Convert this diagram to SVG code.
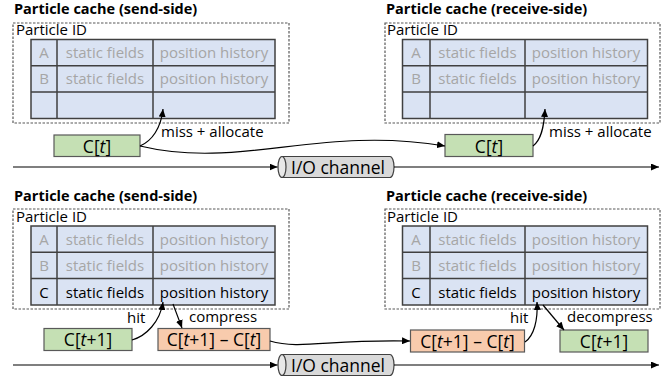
<svg xmlns="http://www.w3.org/2000/svg" width="668" height="381" viewBox="0 0 668 381">
<style>
  text { font-family: "Open Sans", "Noto Sans", "Liberation Sans", sans-serif; }
  .title { font-size: 14.5px; font-weight: bold; fill: #000; }
  .lbl { font-size: 15px; fill: #000; }
  .dash { fill: none; stroke: #595959; stroke-width: 1.2; stroke-dasharray: 2.5 1.5; }
  .tbl { fill: #dae3f3; stroke: #404040; stroke-width: 1.5; }
  .grid { stroke: #404040; stroke-width: 1.5; fill: none; }
  .cell { font-size: 15px; text-anchor: middle; }
  .dim { fill: #a6a6a6; }
  .on { fill: #000; }
  .green { fill: #c5e0b4; stroke: #595959; stroke-width: 1.2; }
  .orange { fill: #f8cbad; stroke: #595959; stroke-width: 1.2; }
  .boxt { font-size: 17.5px; text-anchor: middle; fill: #000; }
  .conn { fill: none; stroke: #000; stroke-width: 1.2; marker-end: url(#ah); }
  .cyl { fill: #d9d9d9; stroke: #404040; stroke-width: 1.2; }
  .cylf { fill: #e8e8e8; stroke: #404040; stroke-width: 1.2; }
  .io { font-size: 17.5px; fill: #000; }
</style>
<defs>
  <marker id="ah" markerUnits="userSpaceOnUse" markerWidth="8" markerHeight="7" refX="8" refY="3.5" orient="auto">
    <path d="M0,0 L8,3.5 L0,7 Z" fill="#000"/>
  </marker>
</defs>

<!-- Upper: send-side cache -->
<g id="cache-send-1">
  <text class="title" x="14" y="14">Particle cache (send-side)</text>
  <rect class="dash" x="13" y="23" width="276" height="100"/>
  <text class="lbl" x="16" y="35">Particle ID</text>
  <rect class="tbl" x="31" y="39.5" width="244" height="79"/>
  <path class="grid" d="M31,65.8 H275 M31,92.1 H275 M57,39.5 V118.5 M153,39.5 V118.5"/>
  <text class="cell dim" x="44" y="57.5">A</text>
  <text class="cell dim" x="105" y="57.5">static fields</text>
  <text class="cell dim" x="214" y="57.5">position history</text>
  <text class="cell dim" x="44" y="84">B</text>
  <text class="cell dim" x="105" y="84">static fields</text>
  <text class="cell dim" x="214" y="84">position history</text>
</g>

<!-- Upper: receive-side cache -->
<g id="cache-recv-1">
  <text class="title" x="386" y="14">Particle cache (receive-side)</text>
  <rect class="dash" x="385" y="23" width="275" height="100"/>
  <text class="lbl" x="387" y="35">Particle ID</text>
  <rect class="tbl" x="402.5" y="39.5" width="245" height="79"/>
  <path class="grid" d="M402.5,65.8 H647.5 M402.5,92.1 H647.5 M430,39.5 V118.5 M525,39.5 V118.5"/>
  <text class="cell dim" x="416" y="57.5">A</text>
  <text class="cell dim" x="477.5" y="57.5">static fields</text>
  <text class="cell dim" x="586" y="57.5">position history</text>
  <text class="cell dim" x="416" y="84">B</text>
  <text class="cell dim" x="477.5" y="84">static fields</text>
  <text class="cell dim" x="586" y="84">position history</text>
</g>

<g id="ct-send">
  <rect class="green" x="54" y="135" width="86" height="21.5"/>
  <text class="boxt" x="97" y="152.5">C[<tspan font-style="italic">t</tspan>]</text>
</g>
<g id="ct-recv">
  <rect class="green" x="445" y="134.5" width="88" height="22"/>
  <text class="boxt" x="489" y="152.5">C[<tspan font-style="italic">t</tspan>]</text>
</g>

<g id="io-1">
  <path class="cyl" d="M282,156.5 H390 A4,10.5 0 0 1 390,177.5 H282 Z"/>
  <ellipse class="cylf" cx="282" cy="167" rx="4" ry="10.5"/>
  <text class="io" x="291" y="174">I/O channel</text>
</g>

<!-- Lower: send-side cache -->
<g id="cache-send-2">
  <text class="title" x="14" y="200.5">Particle cache (send-side)</text>
  <rect class="dash" x="13" y="209" width="276" height="100"/>
  <text class="lbl" x="16" y="221.5">Particle ID</text>
  <rect class="tbl" x="31" y="226" width="244" height="79"/>
  <path class="grid" d="M31,252.3 H275 M31,278.6 H275 M57,226 V305 M153,226 V305"/>
  <text class="cell dim" x="44" y="244.5">A</text>
  <text class="cell dim" x="105" y="244.5">static fields</text>
  <text class="cell dim" x="214" y="244.5">position history</text>
  <text class="cell dim" x="44" y="271">B</text>
  <text class="cell dim" x="105" y="271">static fields</text>
  <text class="cell dim" x="214" y="271">position history</text>
  <text class="cell on" x="44" y="297.8">C</text>
  <text class="cell on" x="105" y="297.8">static fields</text>
  <text class="cell on" x="214" y="297.8">position history</text>
</g>

<!-- Lower: receive-side cache -->
<g id="cache-recv-2">
  <text class="title" x="386" y="200.5">Particle cache (receive-side)</text>
  <rect class="dash" x="385" y="209" width="275" height="100"/>
  <text class="lbl" x="387" y="221.5">Particle ID</text>
  <rect class="tbl" x="402.5" y="226" width="245" height="79"/>
  <path class="grid" d="M402.5,252.3 H647.5 M402.5,278.6 H647.5 M430,226 V305 M525,226 V305"/>
  <text class="cell dim" x="416" y="244.5">A</text>
  <text class="cell dim" x="477.5" y="244.5">static fields</text>
  <text class="cell dim" x="586" y="244.5">position history</text>
  <text class="cell dim" x="416" y="271">B</text>
  <text class="cell dim" x="477.5" y="271">static fields</text>
  <text class="cell dim" x="586" y="271">position history</text>
  <text class="cell on" x="416" y="297.8">C</text>
  <text class="cell on" x="477.5" y="297.8">static fields</text>
  <text class="cell on" x="586" y="297.8">position history</text>
</g>

<g id="ct1-send">
  <rect class="green" x="44" y="328.5" width="88" height="22"/>
  <text class="boxt" x="88" y="346">C[<tspan font-style="italic">t</tspan>+1]</text>
</g>
<g id="diff-send">
  <rect class="orange" x="158" y="328.5" width="112" height="22"/>
  <text class="boxt" x="214" y="346">C[<tspan font-style="italic">t</tspan>+1] – C[<tspan font-style="italic">t</tspan>]</text>
</g>
<g id="diff-recv">
  <rect class="orange" x="410.5" y="330" width="114" height="22"/>
  <text class="boxt" x="467.5" y="347.5">C[<tspan font-style="italic">t</tspan>+1] – C[<tspan font-style="italic">t</tspan>]</text>
</g>
<g id="ct1-recv">
  <rect class="green" x="560" y="330" width="88" height="22"/>
  <text class="boxt" x="604" y="347.5">C[<tspan font-style="italic">t</tspan>+1]</text>
</g>

<g id="io-2">
  <path class="cyl" d="M282,354.5 H390 A4,10.5 0 0 1 390,375.5 H282 Z"/>
  <ellipse class="cylf" cx="282" cy="365" rx="4" ry="10.5"/>
  <text class="io" x="291" y="372">I/O channel</text>
</g>

<!-- Connectors -->
<g id="connectors">
  <path class="conn" d="M13,167 H277.5"/>
  <path class="conn" d="M394,167 H659"/>
  <path class="conn" d="M140,146 C152,141 161,128 163,109"/>
  <path class="conn" d="M140,146 C240,170 320,125 445,146"/>
  <path class="conn" d="M533,146 C541,140 544,128 545,109"/>

  <path class="conn" d="M13,365 H277.5"/>
  <path class="conn" d="M394,365 H659"/>
  <path class="conn" d="M132,340 C146,336 160,322 163,302"/>
  <path class="conn" d="M173,304 L182,328"/>
  <path class="conn" d="M270,341 C300,350 330,339 410,341"/>
  <path class="conn" d="M525,342 C534,336 538,320 537,302"/>
  <path class="conn" d="M543,305 L564,330"/>
</g>
<g id="labels">
  <text class="lbl" x="161" y="137">miss + allocate</text>
  <text class="lbl" x="549" y="137">miss + allocate</text>
  <text class="lbl" x="127" y="323">hit</text>
  <text class="lbl" x="189" y="322">compress</text>
  <text class="lbl" x="510" y="323">hit</text>
  <text class="lbl" x="567" y="322">decompress</text>
</g>
</svg>
